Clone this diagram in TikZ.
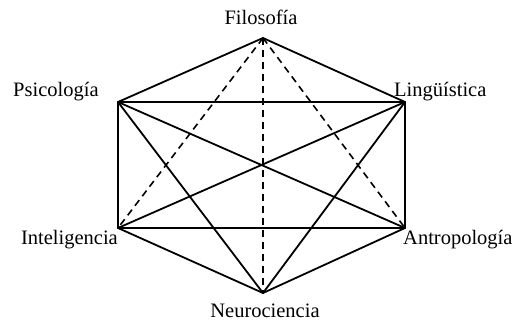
\documentclass[tikz,border=0pt]{standalone}
\usepackage{fontspec}
\setmainfont{Liberation Serif}
\begin{document}
\begin{tikzpicture}[x=1pt,y=-1pt,
  lbl/.style={inner sep=0pt,font=\fontsize{20.5}{24}\selectfont},
  edge/.style={line width=1.8pt,line cap=round,line join=round},
  dedge/.style={line width=1.6pt,dash pattern=on 7pt off 5pt}]
\useasboundingbox (0,0) rectangle (523,323);
\coordinate (F) at (263,38);
\coordinate (L) at (405,102);
\coordinate (A) at (405,228);
\coordinate (N) at (263,293);
\coordinate (I) at (118,228);
\coordinate (P) at (118,102);
\draw[dedge] (F) -- (N);
\draw[dedge] (F) -- (I);
\draw[dedge] (F) -- (A);
\draw[edge] (F) -- (L) -- (A) -- (N) -- (I) -- (P) -- cycle;
\draw[edge] (P) -- (L);
\draw[edge] (I) -- (A);
\draw[edge] (P) -- (A);
\draw[edge] (I) -- (L);
\draw[edge] (P) -- (N);
\draw[edge] (L) -- (N);
\node[lbl,anchor=base] (tF) at (261,25) {Filosofía};
\node[lbl,anchor=base west] (tP) at (13,97) {Psicología};
\node[lbl,anchor=base west] (tL) at (394,97) {Lingüística};
\node[lbl,anchor=base east] (tI) at (118,245) {Inteligencia};
\node[lbl,anchor=base west] (tA) at (403,245) {Antropología};
\node[lbl,anchor=base] (tN) at (265,318) {Neurociencia};
\end{tikzpicture}
\end{document}
